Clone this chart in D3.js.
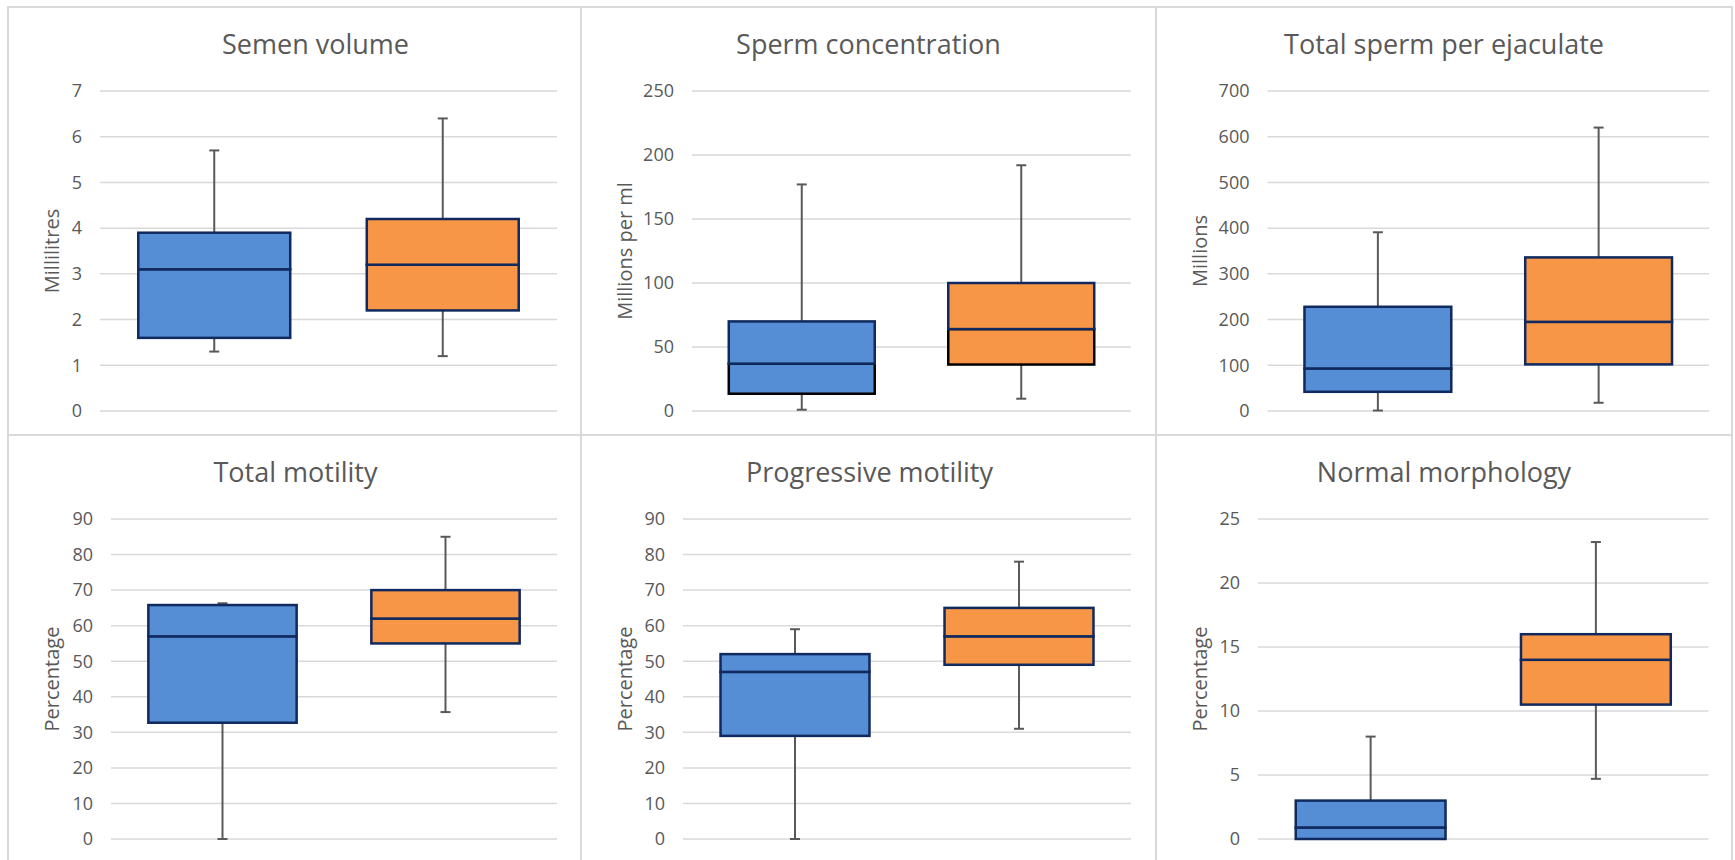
<!DOCTYPE html>
<meta charset="utf-8">
<style>
body { margin: 0; background: #fff; }
svg { display: block; font-family: "Open Sans", sans-serif; }
.grid line { stroke: #d9d9d9; stroke-width: 1.5px; }
.tick-label { fill: #595959; font-size: 18px; }
.chart-title { fill: #595959; font-size: 27px; }
.y-title { fill: #595959; font-size: 20px; }
.whisker { stroke: #595959; stroke-width: 2px; }
</style>
<svg width="1735" height="860" id="chart"></svg>
<script src="https://d3js.org/d3.v7.min.js"></script>
<script>

// chart data, one entry per panel, [blue, orange] per entry
var titles = ["Semen volume", "Sperm concentration", "Total sperm per ejaculate",
              "Total motility", "Progressive motility", "Normal morphology"];
var yTitles = ["Millilitres", "Millions per ml", "Millions",
               "Percentage", "Percentage", "Percentage"];
var yMax = [7, 250, 700, 90, 90, 25];
var yStep = [1, 50, 100, 10, 10, 5];
var groups = ["Group 1", "Group 2"];

var lowWhisker  = [[1.3, 1.2], [1, 9.6], [1, 18], [0, 35.7], [0, 31], [0, 4.7]];
var q1          = [[1.6, 2.2], [13.5, 36.3], [42, 102], [32.7, 55], [29, 49], [0, 10.5]];
var median      = [[3.1, 3.2], [37, 64], [93, 195], [57, 62], [47, 57], [0.9, 14]];
var q3          = [[3.9, 4.2], [70, 100], [228, 336], [65.8, 70], [52, 65], [3, 16]];
var highWhisker = [[5.7, 6.4], [177, 192], [391, 620], [66.3, 85], [59, 78], [8, 23.2]];

var colors = ["#558ed5", "#f79646"];
var boxStroke = "#10295e";
// the lower half of the boxes in the concentration panel has a black outline
var lowerStroke = [boxStroke, "#000", boxStroke, boxStroke, boxStroke, boxStroke];

// layout
var colX = [8, 581, 1156, 1732];
var rowY = [7, 435, 880];
var plotLeft = [92, 111, 111.5, 103, 102, 102];
var plotRight = [24, 25, 23, 24, 25, 23.5];
var plotTop = 84, plotBottom = 404;
var titleDx = [21, 0, 0, 1, 1, 0];

var svg = d3.select("#chart");

titles.forEach(function(title, i) {
  var col = i % 3, row = Math.floor(i / 3);
  var x0 = colX[col], x1 = colX[col + 1];
  var y0 = rowY[row], y1 = rowY[row + 1];

  var g = svg.append("g");

  g.append("rect")
      .attr("x", x0).attr("y", y0)
      .attr("width", x1 - x0).attr("height", y1 - y0)
      .attr("fill", "#fff")
      .attr("stroke", "#d9d9d9")
      .attr("stroke-width", 2);

  var left = x0 + plotLeft[i], right = x1 - plotRight[i];
  var top = y0 + plotTop, bottom = y0 + plotBottom;

  var y = d3.scaleLinear().domain([0, yMax[i]]).range([bottom, top]);
  var x = d3.scaleBand().domain(groups).range([left, right]).padding(0);
  var boxW = x.bandwidth() * 0.665;

  var ticks = d3.range(0, yMax[i] + yStep[i] / 2, yStep[i]);

  g.append("g").attr("class", "grid")
    .selectAll("line").data(ticks).enter().append("line")
      .attr("x1", left).attr("x2", right)
      .attr("y1", function(d) { return y(d); })
      .attr("y2", function(d) { return y(d); });

  g.append("g")
    .selectAll("text").data(ticks).enter().append("text")
      .attr("class", "tick-label")
      .attr("x", left - 18)
      .attr("y", function(d) { return y(d); })
      .attr("dy", "0.35em")
      .attr("text-anchor", "end")
      .text(function(d) { return d; });

  g.append("text")
      .attr("class", "chart-title")
      .attr("x", (x0 + x1) / 2 + titleDx[i])
      .attr("y", y0 + 47)
      .attr("text-anchor", "middle")
      .text(title);

  g.append("text")
      .attr("class", "y-title")
      .attr("transform", "translate(" + (x0 + 44) + "," + ((top + bottom) / 2) + ") rotate(-90)")
      .attr("dy", "0.35em")
      .attr("text-anchor", "middle")
      .text(yTitles[i]);

  groups.forEach(function(grp, j) {
    var cx = x(grp) + x.bandwidth() / 2;
    var bx = cx - boxW / 2;

    // whiskers
    g.append("line").attr("class", "whisker")
        .attr("x1", cx).attr("x2", cx)
        .attr("y1", y(highWhisker[i][j])).attr("y2", y(lowWhisker[i][j]));
    [highWhisker[i][j], lowWhisker[i][j]].forEach(function(v) {
      g.append("line").attr("class", "whisker")
          .attr("x1", cx - 5).attr("x2", cx + 5)
          .attr("y1", y(v)).attr("y2", y(v));
    });

    // lower part of box (q1 to median)
    g.append("rect")
        .attr("x", bx).attr("width", boxW)
        .attr("y", y(median[i][j]))
        .attr("height", Math.max(0, y(q1[i][j]) - y(median[i][j])))
        .attr("fill", colors[j])
        .attr("stroke", lowerStroke[i])
        .attr("stroke-width", 2.5);

    // upper part of box (median to q3)
    g.append("rect")
        .attr("x", bx).attr("width", boxW)
        .attr("y", y(q3[i][j]))
        .attr("height", Math.max(0, y(median[i][j]) - y(q3[i][j])))
        .attr("fill", colors[j])
        .attr("stroke", boxStroke)
        .attr("stroke-width", 2.5);
  });
});

</script>
